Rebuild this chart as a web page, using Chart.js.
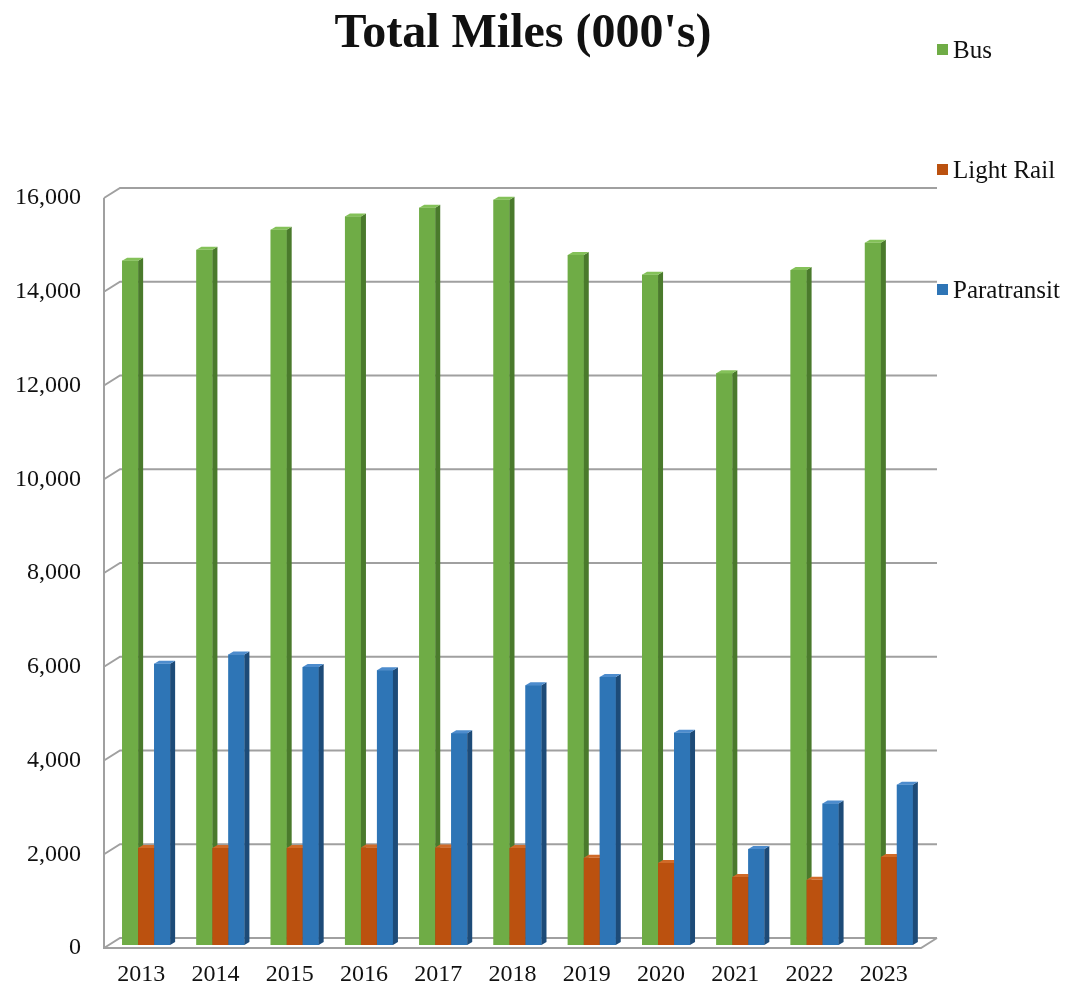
<!DOCTYPE html>
<html>
<head>
<meta charset="utf-8">
<title>Total Miles (000's)</title>
<script src="https://cdn.jsdelivr.net/npm/chart.js@4.4.1/dist/chart.umd.min.js"></script>
<style>
  html, body { margin: 0; padding: 0; background: #ffffff; }
  #wrap { width: 1074px; height: 994px; position: relative; }
</style>
</head>
<body>
<div id="wrap"><canvas id="chart" width="1074" height="994"></canvas></div>
<script>
// Annual miles, in thousands
const years = ['2013', '2014', '2015', '2016', '2017', '2018', '2019', '2020', '2021', '2022', '2023'];
const busMiles = [14600, 14830, 15260, 15540, 15730, 15900, 14720, 14300, 12200, 14400, 14980];
const lightRailMiles = [2070, 2070, 2070, 2080, 2080, 2070, 1860, 1750, 1450, 1390, 1880];
const paratransitMiles = [6000, 6200, 5930, 5860, 4520, 5540, 5720, 4530, 2050, 3020, 3420];
const seriesNames = ['Bus', 'Light Rail', 'Paratransit'];

// Value axis ticks
const yMin = 0;
const yMax = 16000;
const yStep = 2000;

const titleText = "Total Miles (000's)";

// Face colours for each series: front, right side, top
const palette = [
  { front: '#6fac46', side: '#4a7a2c', top: '#84c159' },
  { front: '#bb510f', side: '#833708', top: '#d06a28' },
  { front: '#2e75b6', side: '#1d4b78', top: '#4d8ccd' }
];

const SERIF = '"Liberation Serif", "Times New Roman", serif';
const WALL = { dx: 16, dy: -10 };      // depth of floor and side wall
const BAR_SHIFT = { dx: 5, dy: -3 };   // bars stand a little behind the front edge
const BAR_DEPTH = { dx: 5, dy: -3 };   // thickness of each column

// Back wall grid, side wall and floor outline
const frame3d = {
  id: 'frame3d',
  beforeDatasetsDraw(chart) {
    const { ctx, chartArea: a, scales: { y } } = chart;
    ctx.save();
    ctx.strokeStyle = '#a0a0a0';
    ctx.lineWidth = 2;
    ctx.beginPath();
    for (let v = yMin; v <= yMax; v += yStep) {
      const py = y.getPixelForValue(v);
      ctx.moveTo(a.left, py);
      ctx.lineTo(a.left + WALL.dx, py + WALL.dy);
      ctx.lineTo(a.right + WALL.dx, py + WALL.dy);
    }
    const yTop = y.getPixelForValue(yMax);
    const y0 = y.getPixelForValue(yMin);
    ctx.moveTo(a.left, yTop);
    ctx.lineTo(a.left, y0);
    ctx.lineTo(a.right, y0);
    ctx.lineTo(a.right + WALL.dx, y0 + WALL.dy);
    ctx.stroke();
    ctx.restore();

    // columns are drawn slightly behind the front plane
    ctx.save();
    ctx.translate(BAR_SHIFT.dx, BAR_SHIFT.dy);
  },
  afterDatasetsDraw(chart) {
    const { ctx } = chart;
    const metas = chart.data.datasets.map((d, i) => chart.getDatasetMeta(i));
    const count = chart.data.labels.length;
    // paint each group left to right so later columns hide earlier side faces
    for (let i = 0; i < count; i++) {
      metas.forEach((meta, di) => {
        const el = meta.data[i];
        if (!el) return;
        const { x, y, base, width } = el.getProps(['x', 'y', 'base', 'width'], true);
        const l = x - width / 2;
        const r = x + width / 2;
        const c = palette[di];
        ctx.fillStyle = c.front;
        ctx.fillRect(l, y, width, base - y);
        ctx.fillStyle = c.side;
        ctx.beginPath();
        ctx.moveTo(r, y);
        ctx.lineTo(r + BAR_DEPTH.dx, y + BAR_DEPTH.dy);
        ctx.lineTo(r + BAR_DEPTH.dx, base + BAR_DEPTH.dy);
        ctx.lineTo(r, base);
        ctx.closePath();
        ctx.fill();
        ctx.fillStyle = c.top;
        ctx.beginPath();
        ctx.moveTo(l, y);
        ctx.lineTo(l + BAR_DEPTH.dx, y + BAR_DEPTH.dy);
        ctx.lineTo(r + BAR_DEPTH.dx, y + BAR_DEPTH.dy);
        ctx.lineTo(r, y);
        ctx.closePath();
        ctx.fill();
      });
    }
    ctx.restore();
  }
};

// Title and legend
const captions = {
  id: 'captions',
  afterDraw(chart) {
    const { ctx } = chart;
    ctx.save();
    ctx.fillStyle = '#111111';
    ctx.font = 'bold 48px ' + SERIF;
    ctx.textAlign = 'center';
    ctx.textBaseline = 'alphabetic';
    ctx.fillText(titleText, 523, 47);

    ctx.font = '25px ' + SERIF;
    ctx.textAlign = 'left';
    ctx.textBaseline = 'middle';
    chart.data.datasets.forEach((ds, i) => {
      const cy = 50 + i * 120;
      ctx.fillStyle = palette[i].front;
      ctx.fillRect(937, cy - 6, 11, 11);
      ctx.fillStyle = '#111111';
      ctx.fillText(ds.label, 953, cy + 1);
    });
    ctx.restore();
  }
};

const seriesValues = [busMiles, lightRailMiles, paratransitMiles];

new Chart(document.getElementById('chart'), {
  type: 'bar',
  data: {
    labels: years,
    datasets: seriesNames.map((name, i) => ({
      label: name,
      data: seriesValues[i],
      backgroundColor: palette[i].front,
      borderWidth: 0,
      clip: false,
      categoryPercentage: 0.646,
      barPercentage: 1.0
    }))
  },
  options: {
    responsive: false,
    animation: false,
    locale: 'en-US',
    layout: { padding: { top: 198, right: 153, left: 0, bottom: 0 } },
    plugins: {
      legend: { display: false },
      title: { display: false },
      tooltip: { enabled: false }
    },
    scales: {
      x: {
        grid: { display: false, drawTicks: false },
        border: { display: false },
        ticks: { color: '#111111', padding: 12, font: { family: SERIF, size: 24 } },
        afterFit(scale) { scale.height = 46; }
      },
      y: {
        min: yMin,
        max: yMax,
        grid: { display: false, drawTicks: false },
        border: { display: false },
        ticks: {
          stepSize: yStep,
          color: '#111111',
          padding: 23,
          font: { family: SERIF, size: 24 },
          callback: (v) => Number(v).toLocaleString('en-US')
        },
        afterFit(scale) { scale.width = 104; }
      }
    }
  },
  plugins: [frame3d, captions]
});
</script>
</body>
</html>
